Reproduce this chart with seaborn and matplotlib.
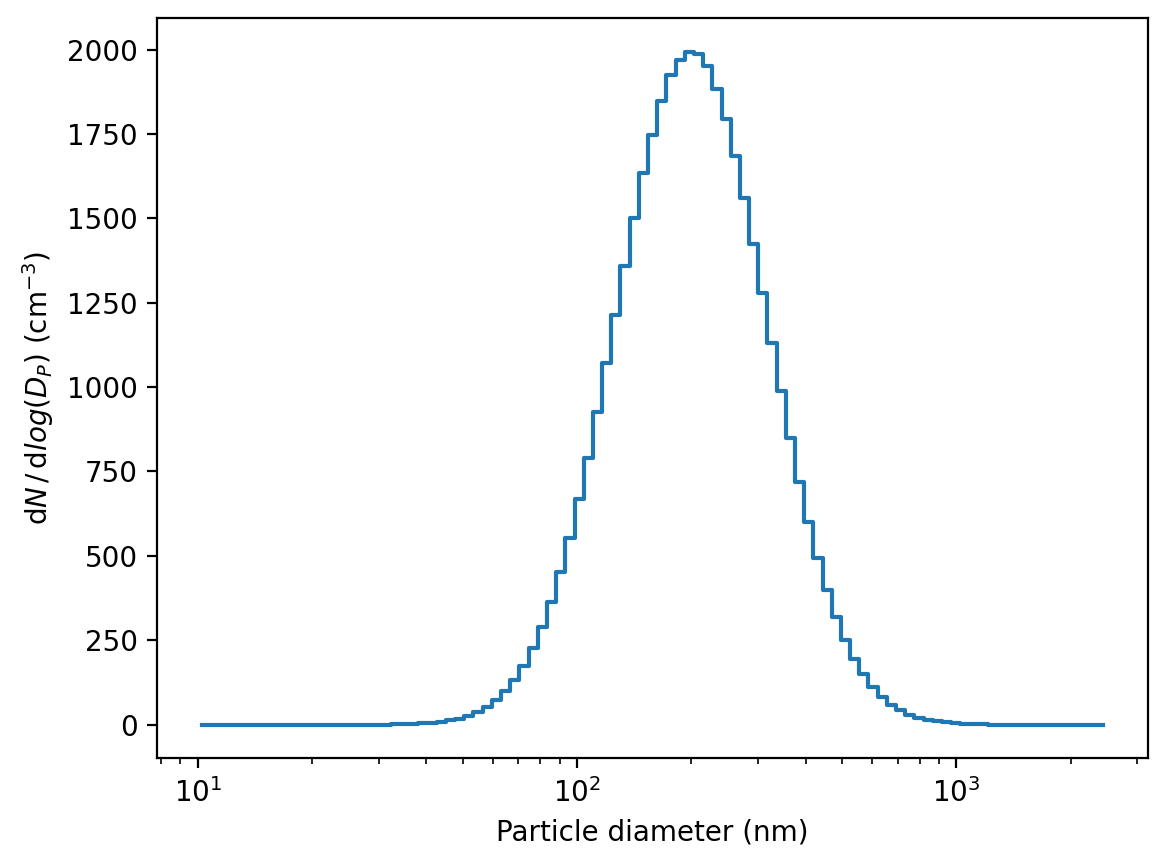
import matplotlib
matplotlib.use("Agg")
import matplotlib.pyplot as plt
import seaborn as sns
import pandas as pd

# Particle diameter (nm): bin centres of the size distribution
diameter_nm = [
    10.28, 10.87, 11.50, 12.16, 12.85, 13.59, 14.37, 15.19, 16.06, 16.98,
    17.96, 18.99, 20.08, 21.23, 22.44, 23.73, 25.09, 26.53, 28.05, 29.66,
    31.36, 33.16, 35.06, 37.07, 39.20, 41.44, 43.82, 46.33, 48.99, 51.80,
    54.77, 57.91, 61.23, 64.74, 68.45, 72.37, 76.52, 80.91, 85.55, 90.46,
    95.64, 101.2, 107.0, 113.1, 119.6, 126.5, 133.7, 141.4, 149.5, 158.1,
    167.1, 176.7, 186.8, 197.6, 208.9, 220.9, 233.5, 246.9, 261.1, 276.0,
    291.9, 308.6, 326.3, 345.0, 364.8, 385.7, 407.8, 431.2, 455.9, 482.1,
    509.7, 538.9, 569.8, 602.5, 637.0, 673.6, 712.2, 753.0, 796.2, 841.8,
    890.1, 941.1, 995.7, 1053, 1113, 1177, 1245, 1316, 1391, 1471,
    1555, 1645, 1739, 1839, 1944, 2056, 2173, 2298, 2430,
]

# dN/dlog(Dp) (cm^-3)
dn_dlogdp = [
    0, 0, 0, 0, 0, 0, 0, 0, 0, 0, 0, 0, 0, 0,
    0, 0, 0, 0, 0, 0, 0.2, 0.5, 1.3, 2.3, 3.6, 5.5, 8.3, 12.3, 18,
    25, 37, 51, 74, 101, 133, 173, 226, 289, 363, 452, 553, 667, 790, 927, 1070,
    1215, 1359, 1502, 1634, 1748, 1847, 1925, 1970, 1994, 1986, 1950, 1882, 1795,
    1684, 1561, 1424, 1278,
    1132, 989, 849, 720, 601, 495, 399, 319, 252, 194, 149, 111, 81, 59, 44, 30,
    21, 15, 10,
    7, 4.6, 3.0, 1.8, 0.6, 0.3, 0.15, 0.08, 0, 0, 0, 0, 0, 0,
    0, 0, 0, 0,
]

df = pd.DataFrame({"Dp": diameter_nm, "dN": dn_dlogdp})

fig = plt.figure(figsize=(5.84, 4.335), dpi=200)
ax = fig.add_axes([0.1347, 0.1254, 0.848, 0.8539])

sns.lineplot(data=df, x="Dp", y="dN", ax=ax, estimator=None, sort=False,
             drawstyle="steps-mid", color="#1f77b4", linewidth=1.5)

ax.set_xscale("log")
ax.set_xlabel("Particle diameter (nm)")
ax.set_ylabel(r"d$N\,/\,$d$log(D_P)$ (cm$^{-3}$)")

fig.savefig("out.png", dpi=200)
